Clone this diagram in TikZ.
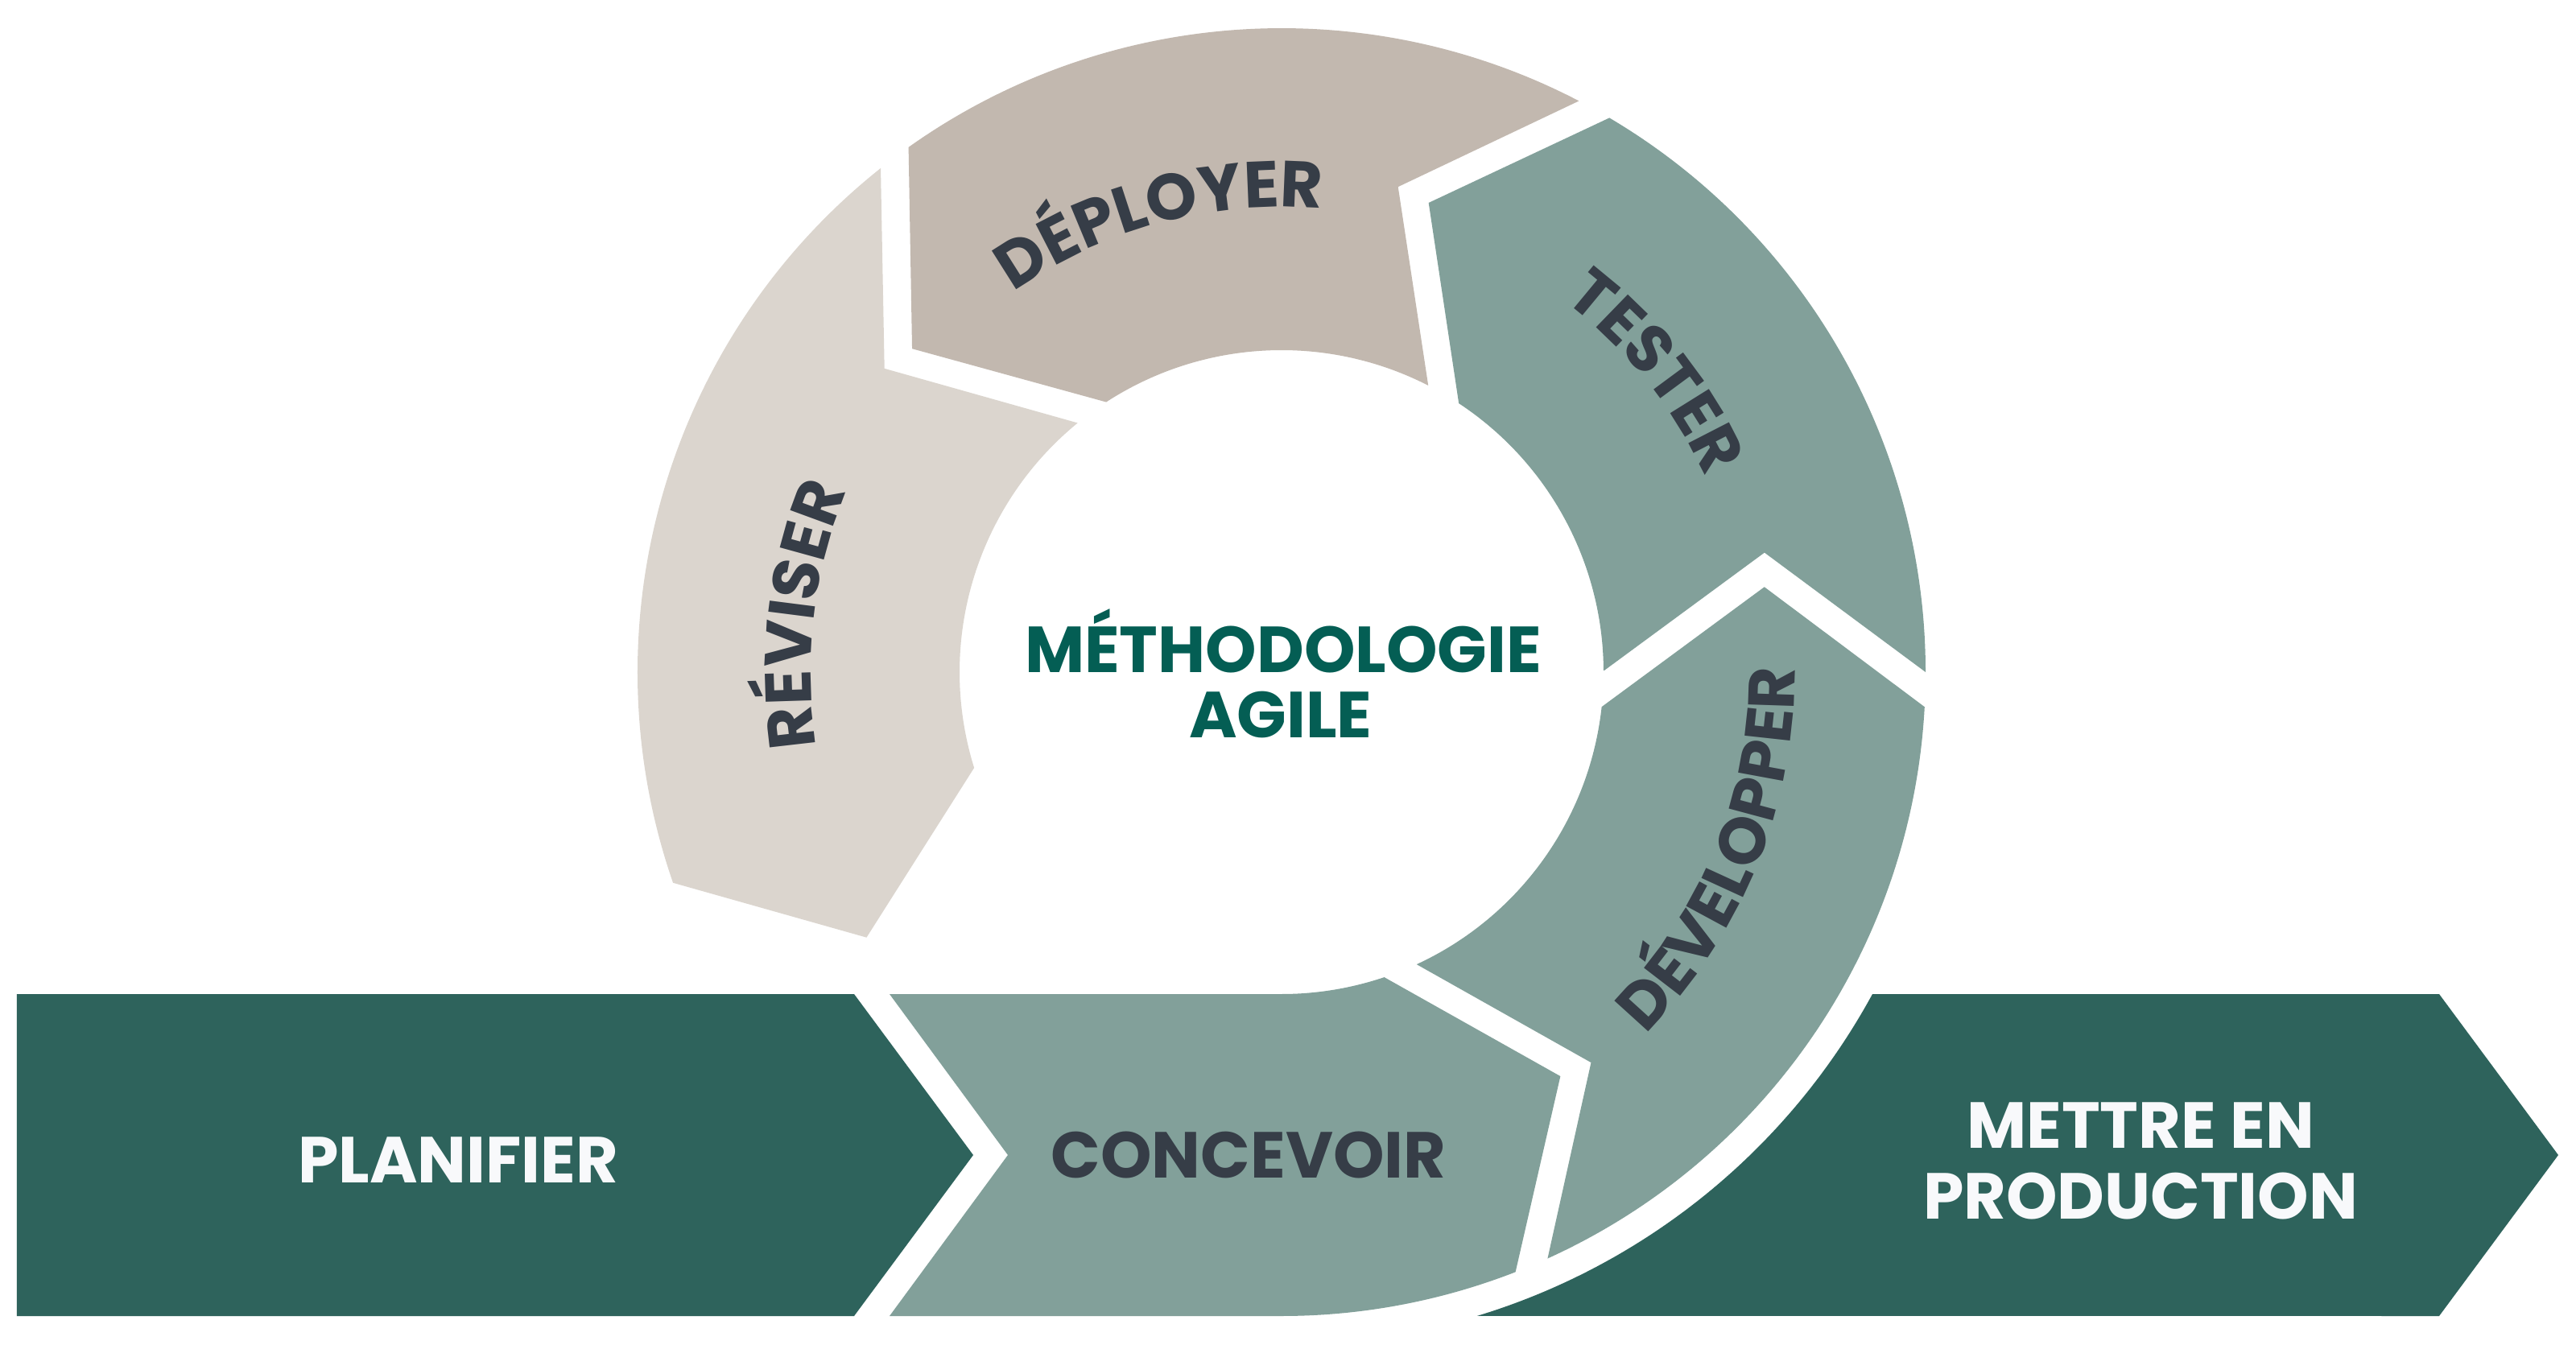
\documentclass[tikz,border=0pt]{standalone}
\usepackage{fontspec}
\newfontfamily\pop{Poppins}
\usetikzlibrary{decorations.text}
\definecolor{barGreen}{RGB}{46,99,92}
\definecolor{ringGreen}{RGB}{130,160,154}
\definecolor{deployC}{RGB}{194,184,175}
\definecolor{reviseC}{RGB}{219,213,206}
\definecolor{txtDark}{RGB}{54,61,71}
\definecolor{txtTeal}{RGB}{4,94,84}
\definecolor{txtWhite}{RGB}{248,249,251}
\tikzset{
  lbl/.style={font=\pop\bfseries\fontsize{23}{23}\selectfont, inner sep=0pt, anchor=base},
  curvelbl/.style={decorate, decoration={text along path, text align=center, text color=txtDark, text={|\pop\bfseries\fontsize{23}{23}\selectfont|#1}}}
}
\begin{document}
\begin{tikzpicture}
\useasboundingbox (0,0) rectangle (32,16.7);
\fill[white] (0,0) rectangle (32,16.7);
\begin{scope}[shift={(15.92,8.35)}]
% bars
\fill[barGreen] (-15.71,-4) -- (-5.31,-4) -- (-3.83,-6) -- (-5.31,-8) -- (-15.71,-8) -- cycle;
\fill[barGreen] (-28.6:8.36) -- (14.38,-4) -- (15.86,-6) -- (14.38,-8) -- (-73.1:8.36) arc[start angle=-73.1, end angle=-28.6, radius=8.36] -- cycle;
% concevoir
\fill[ringGreen] (-4.87,-4) -- (0,-4) arc[start angle=-90, end angle=-71.4, radius=4] -- (-55.4:6.10) -- (-68.7:8) arc[start angle=-68.7, end angle=-90, radius=8] -- (-4.87,-8) -- (-3.40,-6) -- cycle;
% developper
\fill[ringGreen] (-65.2:4) -- (-51.6:6.19) -- (-65.6:8) arc[start angle=-65.6, end angle=-3.1, radius=8] -- (10:6.09) -- (-6.2:4) arc[start angle=-6.2, end angle=-65.2, radius=4] -- cycle;
% tester
\fill[ringGreen] (0.3:4.01) -- (13.9:6.18) -- (0:8) arc[start angle=0, end angle=59.4, radius=8] -- (72.6:6.11) -- (56.6:4) arc[start angle=56.6, end angle=0.3, radius=4] -- cycle;
% deployer
\fill[deployC] (62.9:4) -- (76.5:6.2) -- (62.5:8) arc[start angle=62.5, end angle=125.4, radius=8] -- (138.8:6.1) -- (123:4) arc[start angle=123, end angle=62.9, radius=4] -- cycle;
% reviser
\fill[reviseC] (129.3:4) -- (142.6:6.21) -- (128.5:8) arc[start angle=128.5, end angle=199.1, radius=8] -- (212.6:6.12) -- (197.3:4) arc[start angle=197.3, end angle=129.3, radius=4] -- cycle;
% straight labels
\node[lbl, text=txtWhite] (plan) at (-10.23,-6.34) {PLANIFIER};
\node[lbl, text=txtDark] (conc) at (-0.41,-6.28) {CONCEVOIR};
\node[lbl, text=txtWhite] (mep1) at (10.67,-5.91) {METTRE EN};
\node[lbl, text=txtWhite] (mep2) at (10.67,-6.79) {PRODUCTION};
\node[lbl, text=txtTeal] (meth1) at (0.02,-0.01) {MÉTHODOLOGIE};
\node[lbl, text=txtTeal] (meth2) at (-0.01,-0.81) {AGILE};
% curved labels
\path[curvelbl={DÉPLOYER}] (135.1:5.78) arc[start angle=135.1, end angle=75.1, radius=5.78];
\path[curvelbl={TESTER}] (68.7:5.8) arc[start angle=68.7, end angle=8.7, radius=5.8];
\path[curvelbl={RÉVISER}] (203.2:5.85) arc[start angle=203.2, end angle=143.2, radius=5.85];
\path[curvelbl={DÉVELOPPER}] (-57.2:6.38) arc[start angle=-57.2, end angle=12.8, radius=6.38];
\end{scope}
\end{tikzpicture}
\end{document}
